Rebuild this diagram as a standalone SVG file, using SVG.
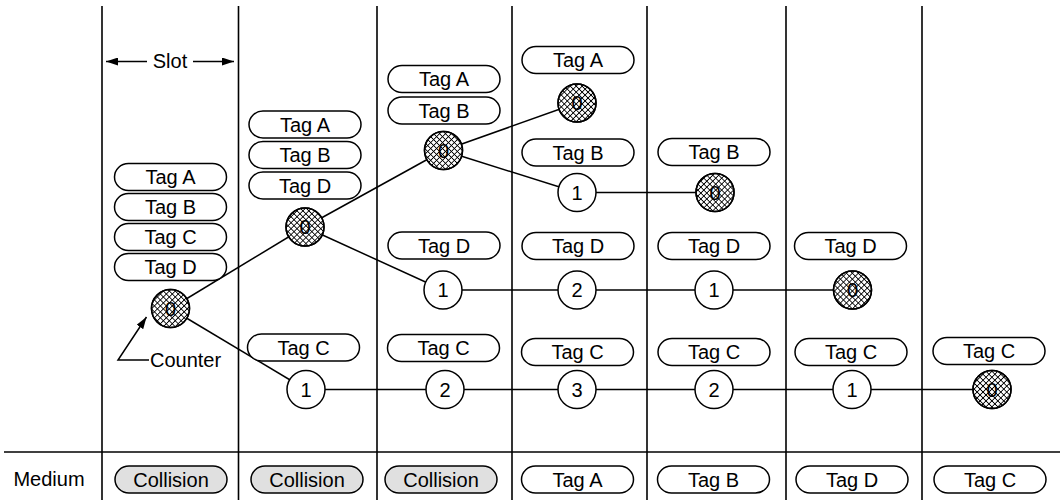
<svg xmlns="http://www.w3.org/2000/svg" width="1060" height="500" viewBox="0 0 1060 500">
<style>
.grid{stroke:#000;stroke-width:1.6;fill:none}
.pill{fill:#fff;stroke:#000;stroke-width:1.5}
.pill.col{fill:#e0e0e0}
.t{font-family:"Liberation Sans",Arial,Helvetica,sans-serif;font-size:20px;fill:#000;text-anchor:middle}
.ts{font-family:"Liberation Sans",Arial,Helvetica,sans-serif;font-size:20px;fill:#000}
.c{fill:#fff;stroke:#000;stroke-width:1.5}
.h{fill:url(#hatch);stroke:#000;stroke-width:1.5}
.ln{stroke:#000;stroke-width:1.5;fill:none}
</style>
<defs>
<pattern id="hatch" width="4.2" height="4.2" patternUnits="userSpaceOnUse" patternTransform="rotate(45)">
<path d="M0 2.1H4.2M2.1 0V4.2" stroke="#000" stroke-width="0.85"/>
</pattern>
<marker id="ah" viewBox="0 0 12 8" refX="12" refY="4" markerWidth="12" markerHeight="8" markerUnits="userSpaceOnUse" orient="auto">
<path d="M0 0L12 4L0 8Z" fill="#000"/>
</marker>
</defs>

<g id="grid">
<line class="grid" x1="102" y1="6" x2="102" y2="500"/>
<line class="grid" x1="238.5" y1="6" x2="238.5" y2="500"/>
<line class="grid" x1="377" y1="6" x2="377" y2="500"/>
<line class="grid" x1="512" y1="6" x2="512" y2="500"/>
<line class="grid" x1="647" y1="6" x2="647" y2="500"/>
<line class="grid" x1="786" y1="6" x2="786" y2="500"/>
<line class="grid" x1="922" y1="6" x2="922" y2="500"/>
<line class="grid" x1="4" y1="452" x2="1060" y2="452"/>
</g>

<g id="slot-label">
<line class="ln" x1="147" y1="61.5" x2="106" y2="61.5" marker-end="url(#ah)"/>
<line class="ln" x1="193" y1="61.5" x2="234" y2="61.5" marker-end="url(#ah)"/>
<text class="t" x="170" y="68">Slot</text>
</g>

<g id="connectors">
<line class="ln" x1="170.5" y1="308.5" x2="305" y2="227"/>
<line class="ln" x1="170.5" y1="308.5" x2="306" y2="389.5"/>
<line class="ln" x1="305" y1="227" x2="443.5" y2="150.5"/>
<line class="ln" x1="305" y1="227" x2="443" y2="290"/>
<line class="ln" x1="443.5" y1="150.5" x2="577" y2="103"/>
<line class="ln" x1="443.5" y1="150.5" x2="577" y2="192.5"/>
<line class="ln" x1="577" y1="192.5" x2="715" y2="192.5"/>
<line class="ln" x1="443" y1="290" x2="852.5" y2="290"/>
<line class="ln" x1="306" y1="389.5" x2="992" y2="389.5"/>
<polyline class="ln" points="149,360 118,360 146.5,317" marker-end="url(#ah)"/>
</g>

<g id="counter-label"><text class="ts" x="150" y="366.5">Counter</text></g>

<g id="slot1">
<rect class="pill" x="114.5" y="163.5" width="112" height="27" rx="14" ry="13.5"/><text class="t" x="170.5" y="184">Tag A</text>
<rect class="pill" x="114.5" y="193.5" width="112" height="27" rx="14" ry="13.5"/><text class="t" x="170.5" y="214">Tag B</text>
<rect class="pill" x="114.5" y="223.5" width="112" height="27" rx="14" ry="13.5"/><text class="t" x="170.5" y="244">Tag C</text>
<rect class="pill" x="114.5" y="253.5" width="112" height="27" rx="14" ry="13.5"/><text class="t" x="170.5" y="274">Tag D</text>
<circle class="c" cx="170.5" cy="308.5" r="19"/><text class="t" x="170.5" y="315.5">0</text><circle class="h" cx="170.5" cy="308.5" r="19"/>
</g>

<g id="slot2">
<rect class="pill" x="249" y="111" width="112" height="27" rx="14" ry="13.5"/><text class="t" x="305" y="131.5">Tag A</text>
<rect class="pill" x="249" y="141.5" width="112" height="27" rx="14" ry="13.5"/><text class="t" x="305" y="162">Tag B</text>
<rect class="pill" x="249" y="172" width="112" height="27" rx="14" ry="13.5"/><text class="t" x="305" y="192.5">Tag D</text>
<circle class="c" cx="305" cy="227" r="19"/><text class="t" x="305" y="234">0</text><circle class="h" cx="305" cy="227" r="19"/>
<rect class="pill" x="247.5" y="334" width="112" height="27" rx="14" ry="13.5"/><text class="t" x="303.5" y="354.5">Tag C</text>
<circle class="c" cx="306" cy="389.5" r="19"/><text class="t" x="306" y="396.5">1</text>
</g>

<g id="slot3">
<rect class="pill" x="388" y="65.5" width="112" height="27" rx="14" ry="13.5"/><text class="t" x="444" y="86">Tag A</text>
<rect class="pill" x="388" y="97" width="112" height="27" rx="14" ry="13.5"/><text class="t" x="444" y="117.5">Tag B</text>
<circle class="c" cx="443.5" cy="150.5" r="19"/><text class="t" x="443.5" y="157.5">0</text><circle class="h" cx="443.5" cy="150.5" r="19"/>
<rect class="pill" x="388" y="232" width="112" height="27" rx="14" ry="13.5"/><text class="t" x="444" y="252.5">Tag D</text>
<circle class="c" cx="443" cy="290" r="19"/><text class="t" x="443" y="297">1</text>
<rect class="pill" x="387.5" y="334.5" width="112" height="27" rx="14" ry="13.5"/><text class="t" x="443.5" y="355">Tag C</text>
<circle class="c" cx="445" cy="389.5" r="19"/><text class="t" x="445" y="396.5">2</text>
</g>

<g id="slot4">
<rect class="pill" x="522" y="46.5" width="112" height="27" rx="14" ry="13.5"/><text class="t" x="578" y="67">Tag A</text>
<circle class="c" cx="577" cy="103" r="19"/><text class="t" x="577" y="110">0</text><circle class="h" cx="577" cy="103" r="19"/>
<rect class="pill" x="522" y="139" width="112" height="27" rx="14" ry="13.5"/><text class="t" x="578" y="159.5">Tag B</text>
<circle class="c" cx="577" cy="192.5" r="19"/><text class="t" x="577" y="199.5">1</text>
<rect class="pill" x="522" y="232.5" width="112" height="27" rx="14" ry="13.5"/><text class="t" x="578" y="253">Tag D</text>
<circle class="c" cx="577" cy="290" r="19"/><text class="t" x="577" y="297">2</text>
<rect class="pill" x="521.5" y="338.5" width="112" height="27" rx="14" ry="13.5"/><text class="t" x="577.5" y="359">Tag C</text>
<circle class="c" cx="577" cy="389.5" r="19"/><text class="t" x="577" y="396.5">3</text>
</g>

<g id="slot5">
<rect class="pill" x="658" y="138.5" width="112" height="27" rx="14" ry="13.5"/><text class="t" x="714" y="159">Tag B</text>
<circle class="c" cx="715" cy="192.5" r="19"/><text class="t" x="715" y="199.5">0</text><circle class="h" cx="715" cy="192.5" r="19"/>
<rect class="pill" x="658" y="232.5" width="112" height="27" rx="14" ry="13.5"/><text class="t" x="714" y="253">Tag D</text>
<circle class="c" cx="714" cy="290" r="19"/><text class="t" x="714" y="297">1</text>
<rect class="pill" x="658" y="338.5" width="112" height="27" rx="14" ry="13.5"/><text class="t" x="714" y="359">Tag C</text>
<circle class="c" cx="714" cy="389.5" r="19"/><text class="t" x="714" y="396.5">2</text>
</g>

<g id="slot6">
<rect class="pill" x="794.5" y="232.5" width="112" height="27" rx="14" ry="13.5"/><text class="t" x="850.5" y="253">Tag D</text>
<circle class="c" cx="852.5" cy="290" r="19"/><text class="t" x="852.5" y="297">0</text><circle class="h" cx="852.5" cy="290" r="19"/>
<rect class="pill" x="795" y="338.5" width="112" height="27" rx="14" ry="13.5"/><text class="t" x="851" y="359">Tag C</text>
<circle class="c" cx="852" cy="389.5" r="19"/><text class="t" x="852" y="396.5">1</text>
</g>

<g id="slot7">
<rect class="pill" x="933" y="337.5" width="112" height="27" rx="14" ry="13.5"/><text class="t" x="989" y="358">Tag C</text>
<circle class="c" cx="992" cy="389.5" r="19"/><text class="t" x="992" y="396.5">0</text><circle class="h" cx="992" cy="389.5" r="19"/>
</g>

<g id="medium">
<text class="t" x="49" y="486">Medium</text>
<rect class="pill col" x="115" y="466" width="112" height="27" rx="14" ry="13.5"/><text class="t" x="171" y="486.5">Collision</text>
<rect class="pill col" x="251" y="466" width="112" height="27" rx="14" ry="13.5"/><text class="t" x="307" y="486.5">Collision</text>
<rect class="pill col" x="385" y="466" width="112" height="27" rx="14" ry="13.5"/><text class="t" x="441" y="486.5">Collision</text>
<rect class="pill" x="521.5" y="466" width="112" height="27" rx="14" ry="13.5"/><text class="t" x="577.5" y="486.5">Tag A</text>
<rect class="pill" x="657.5" y="466" width="112" height="27" rx="14" ry="13.5"/><text class="t" x="713.5" y="486.5">Tag B</text>
<rect class="pill" x="796" y="466" width="112" height="27" rx="14" ry="13.5"/><text class="t" x="852" y="486.5">Tag D</text>
<rect class="pill" x="934" y="466" width="112" height="27" rx="14" ry="13.5"/><text class="t" x="990" y="486.5">Tag C</text>
</g>
</svg>
